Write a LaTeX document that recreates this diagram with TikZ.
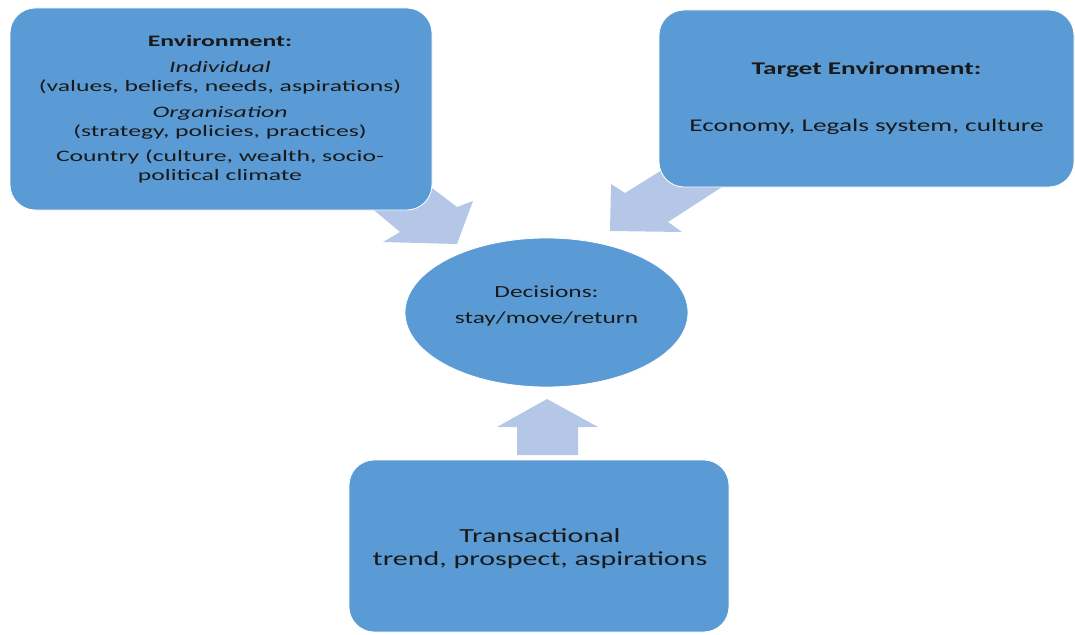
\documentclass[tikz,border=0pt]{standalone}
\usepackage{fontspec}
\setmainfont{Carlito}
\usetikzlibrary{shapes.geometric}
\definecolor{boxblue}{HTML}{5B9BD5}
\definecolor{arrowblue}{HTML}{B4C7E7}

\begin{document}
\begin{tikzpicture}[line cap=round,line join=round,x=0.75pt,y=-0.75pt,
  panel/.style={draw=white,line width=0.6pt,fill=boxblue,rounded corners=19pt,inner sep=0pt},
  oval/.style={ellipse,draw=white,line width=0.6pt,fill=boxblue,inner sep=0pt},
  label/.style={align=center,text=black!90,xscale=1.5,inner sep=0pt},
  blockarrow/.style={fill=arrowblue}]
\useasboundingbox (0,0) rectangle (1075,635);
% block arrows, tails hidden under the boxes
\fill[blockarrow] (411,172) -- (457,207) -- (473,201) -- (457,244) -- (383,242) -- (400,232) -- (356,195) -- cycle;
\fill[blockarrow] (683,157) -- (625,193) -- (611,184) -- (610,231) -- (682,232) -- (668,222) -- (742,174) -- cycle;
\fill[blockarrow] (517,455) -- (517,427) -- (497,427) -- (547,399) -- (598,427) -- (578,427) -- (578,455) -- cycle;

\node[panel,minimum width=316.5pt,minimum height=151.5pt] (env) at (221,109) {};
\node[panel,minimum width=311.25pt,minimum height=132.75pt] (target) at (866.5,98.5) {};
\node[oval,minimum width=212.25pt,minimum height=111.75pt] (decide) at (546.5,312.5) {};
\node[panel,minimum width=285pt,minimum height=129pt] (trans) at (539,546) {};

\node[label,xscale=1.07,font=\fontsize{12}{14.25}\selectfont] (envtext) at (220,109.5)
  {\textbf{Environment:}\\[5pt]\textit{Individual}\\(values, beliefs, needs, aspirations)\\[5pt]
   \textit{Organisation}\\(strategy, policies, practices)\\[5pt]Country (culture, wealth, socio-\\political climate};
\node[label,xscale=1.02,font=\fontsize{13.4}{16}\selectfont] (targettext) at (target.center)
  {\textbf{Target Environment:}\\[27pt]Economy, Legals system, culture};
\node[label,font=\fontsize{12.7}{15}\selectfont] (decidetext) at (546.5,306)
  {Decisions:\\[4.5pt]stay/move/return};
\node[label,font=\fontsize{15}{17.25}\selectfont] (transtext) at (540,549)
  {Transactional\\trend, prospect, aspirations};
\end{tikzpicture}
\end{document}
